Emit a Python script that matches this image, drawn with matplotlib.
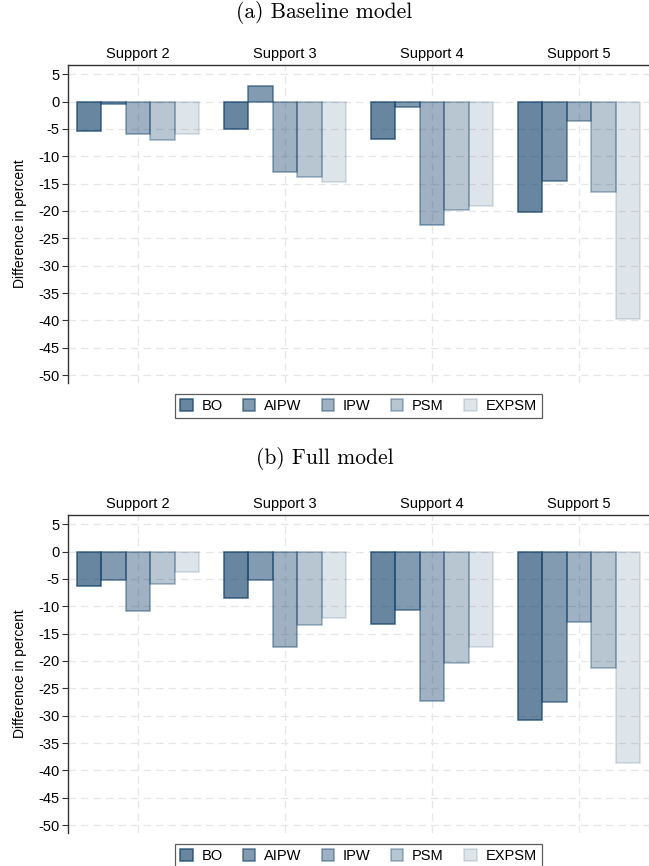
import matplotlib
matplotlib.use("Agg")
import matplotlib.pyplot as plt
import numpy as np
from matplotlib.patches import Patch

groups = ["Support 2", "Support 3", "Support 4", "Support 5"]
methods = ["BO", "AIPW", "IPW", "PSM", "EXPSM"]

baseline = {
    "BO":    [-5.4, -5.0, -6.8, -20.1],
    "AIPW":  [-0.4, 2.8, -1.0, -14.6],
    "IPW":   [-6.0, -12.8, -22.6, -3.5],
    "PSM":   [-7.1, -13.8, -19.8, -16.5],
    "EXPSM": [-5.9, -14.7, -19.0, -39.7],
}
full = {
    "BO":    [-6.3, -8.5, -13.2, -30.8],
    "AIPW":  [-5.2, -5.2, -10.6, -27.5],
    "IPW":   [-10.9, -17.5, -27.4, -12.8],
    "PSM":   [-6.0, -13.4, -20.4, -21.2],
    "EXPSM": [-3.8, -12.2, -17.4, -38.7],
}
yticks = list(range(-50, 6, 5))
titles = ["(a) Baseline model", "(b) Full model"]

plt.rcParams["font.family"] = ["Liberation Sans", "DejaVu Sans"]

navy = np.array([26, 71, 111]) / 255.0
fill_alpha = [0.66, 0.54, 0.42, 0.31, 0.14]
edge_alpha = [0.82, 0.68, 0.50, 0.40, 0.18]

fig = plt.figure(figsize=(6.49, 8.66), dpi=100)
W, H = 649, 866
axes_px = [(65, 382.7), (515, 832.7)]
title_y = [12, 458]

bw = 122 / 147 / 5
x = np.arange(len(groups))

for k, (data, (top, bot)) in enumerate(zip([baseline, full], axes_px)):
    ax = fig.add_axes([68 / W, 1 - bot / H, (W - 68) / W, (bot - top) / H])
    ax.set_xlim(-0.476, 3.476)
    ax.set_ylim(-51.4, 6.7)
    for yv in yticks:
        ax.axhline(yv, color="#e6e6e6", lw=0.9, ls=(0, (6, 4)), zorder=0)
    for xv in x:
        ax.axvline(xv, color="#e6e6e6", lw=0.9, ls=(0, (6, 4)), zorder=0)
    for j, m in enumerate(methods):
        ax.bar(x + (j - 2) * bw, data[m], width=bw,
               color=(*navy, fill_alpha[j]),
               edgecolor=(*navy, edge_alpha[j]), linewidth=1.1, zorder=2)
    ax.set_yticks(yticks)
    ax.set_yticklabels([str(v) for v in yticks], fontsize=10.5)
    ax.set_xticks([])
    for s in ["right", "bottom"]:
        ax.spines[s].set_visible(False)
    ax.spines["top"].set_color("#333333")
    ax.spines["left"].set_color("#333333")
    ax.spines["top"].set_linewidth(1.0)
    ax.spines["left"].set_linewidth(1.0)
    ax.tick_params(axis="y", length=4, width=0.8, color="#333333", pad=2)
    ax.set_ylabel("Difference in percent", fontsize=10, labelpad=8)
    for i, g in enumerate(groups):
        ax.text(i, 1.012, g, transform=ax.get_xaxis_transform(),
                ha="center", va="bottom", fontsize=10.5)
    handles = [Patch(facecolor=(*navy, fill_alpha[j]),
                     edgecolor=(*navy, edge_alpha[j]), linewidth=1.1)
               for j in range(len(methods))]
    leg = ax.legend(handles, methods, loc="upper center",
                    bbox_to_anchor=(0.5, -0.012), ncol=5, fontsize=10.5,
                    frameon=True, fancybox=False, edgecolor="#333333",
                    handlelength=0.85, handleheight=0.85, columnspacing=1.4,
                    handletextpad=0.6, borderpad=0.35)
    leg.get_frame().set_linewidth(0.9)
    fig.text(0.5, 1 - title_y[k] / H, titles[k], ha="center", va="center",
             fontsize=15.5, family=["cmr10", "DejaVu Serif"])

fig.savefig("out.png", dpi=100)
